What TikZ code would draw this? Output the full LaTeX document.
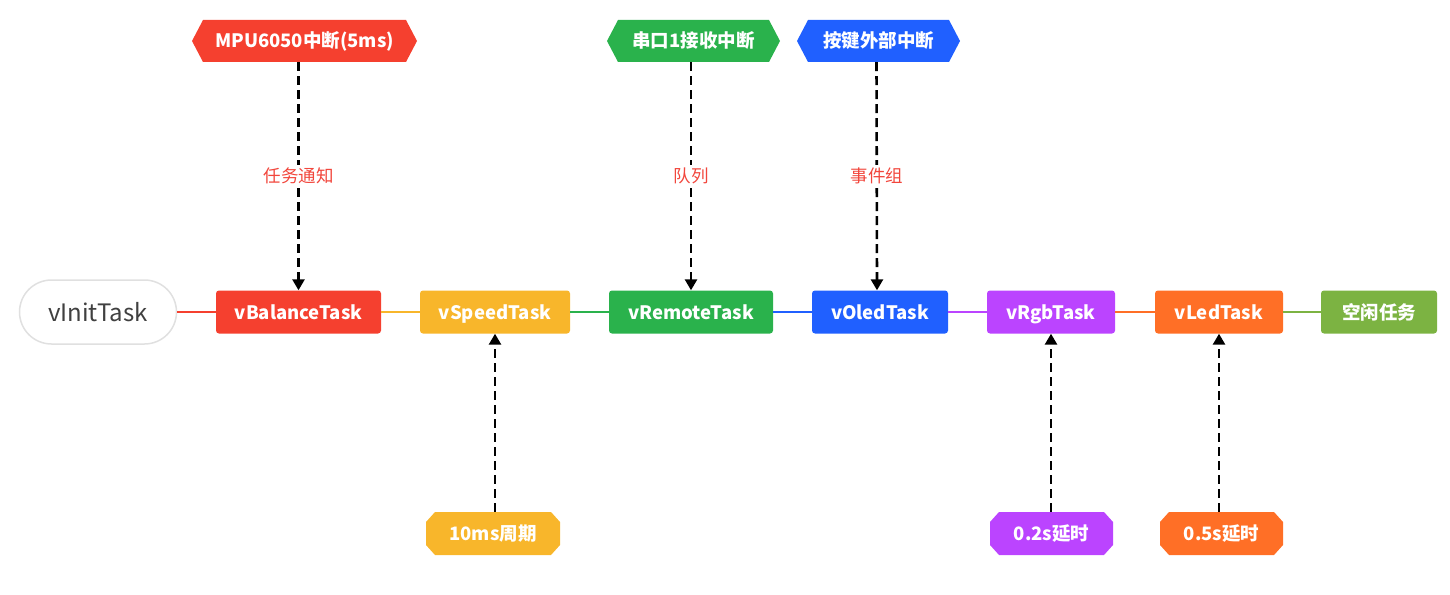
\documentclass[tikz,border=0pt]{standalone}
\usepackage{fontspec}
\setmainfont{Noto Sans CJK SC}
\usetikzlibrary{arrows.meta}
\definecolor{cRed}{HTML}{F5402F}
\definecolor{cYel}{HTML}{F8B62B}
\definecolor{cGrn}{HTML}{2AB24C}
\definecolor{cBlu}{HTML}{2060FF}
\definecolor{cPur}{HTML}{BB44FF}
\definecolor{cOra}{HTML}{FF6F26}
\definecolor{cLgr}{HTML}{7CB342}
\definecolor{cLbl}{HTML}{F2463C}
\definecolor{cTxt}{HTML}{404040}
\begin{document}
\begin{tikzpicture}[x=1pt,y=-1pt,
  boxtext/.style={text=white, font=\fontsize{18.5}{22}\selectfont\bfseries,
    text height=15.5pt, text depth=1.5pt, inner sep=0pt},
  task/.style={boxtext, fill=#1, rounded corners=3pt, minimum height=43pt},
  link/.style={draw=#1, line width=2.5pt},
  hexbox/.style={boxtext, minimum height=42pt,
    path picture={\fill[#1] (path picture bounding box.west)
      -- ([xshift=11pt]path picture bounding box.north west)
      -- ([xshift=-11pt]path picture bounding box.north east)
      -- (path picture bounding box.east)
      -- ([xshift=-11pt]path picture bounding box.south east)
      -- ([xshift=11pt]path picture bounding box.south west) -- cycle;}},
  octbox/.style={boxtext, minimum height=43pt,
    path picture={\fill[#1]
         ([yshift=-10pt]path picture bounding box.north west)
      -- ([xshift=9pt]path picture bounding box.north west)
      -- ([xshift=-9pt]path picture bounding box.north east)
      -- ([yshift=-10pt]path picture bounding box.north east)
      -- ([yshift=10pt]path picture bounding box.south east)
      -- ([xshift=-9pt]path picture bounding box.south east)
      -- ([xshift=9pt]path picture bounding box.south west)
      -- ([yshift=10pt]path picture bounding box.south west) -- cycle;}},
  dasharrow/.style={draw=black, line width=2.6pt, dash pattern=on 9pt off 5pt,
    -{Triangle[width=12pt,length=11pt]}},
  lbl/.style={fill=white, text=cLbl, inner sep=3pt, font=\fontsize{17.5}{20}\selectfont}
]
\useasboundingbox (0,0) rectangle (1450,594);

% main row
\node[draw=black!12, line width=1.5pt, fill=white, rounded corners=32pt,
  minimum width=157pt, minimum height=64pt, text=cTxt,
  font=\fontsize{24}{26}\selectfont] (init) at (98,312) {vInitTask};
\node[task=cRed, minimum width=165pt] (bal) at (298.5,312) {vBalanceTask};
\node[task=cYel, minimum width=150pt] (spd) at (495,312) {vSpeedTask};
\node[task=cGrn, minimum width=164pt] (rem) at (691,312) {vRemoteTask};
\node[task=cBlu, minimum width=136pt] (old) at (880,312) {vOledTask};
\node[task=cPur, minimum width=128pt] (rgb) at (1051,312) {vRgbTask};
\node[task=cOra, minimum width=128pt] (led) at (1219,312) {vLedTask};
\node[task=cLgr, minimum width=116pt] (idle) at (1379,312) {空闲任务};

\draw[link=cRed] (init) -- (bal);
\draw[link=cYel] (bal) -- (spd);
\draw[link=cGrn] (spd) -- (rem);
\draw[link=cBlu] (rem) -- (old);
\draw[link=cPur] (old) -- (rgb);
\draw[link=cOra] (rgb) -- (led);
\draw[link=cLgr] (led) -- (idle);

% interrupt sources
\node[hexbox=cRed, minimum width=225pt] (mpu) at (304.5,41) {MPU6050中断(5ms)};
\node[hexbox=cGrn, minimum width=173pt] (uart) at (693.5,41) {串口1接收中断};
\node[hexbox=cBlu, minimum width=163pt] (key) at (878.5,41) {按键外部中断};

\draw[dasharrow] (mpu.south -| bal.north) -- node[lbl]{任务通知} (bal.north);
\draw[dasharrow] (uart.south -| rem.north) -- node[lbl]{队列} (rem.north);
\draw[dasharrow] ([xshift=-2pt]key.south) -- node[lbl]{事件组} ([xshift=-3pt]old.north);

% periodic sources
\node[octbox=cYel, minimum width=134pt] (t10) at (493,533.5) {10ms周期};
\node[octbox=cPur, minimum width=123pt] (t02) at (1051.5,533.5) {0.2s延时};
\node[octbox=cOra, minimum width=123pt] (t05) at (1221.5,533.5) {0.5s延时};

\draw[dasharrow] (t10.north -| spd.south) -- (spd.south);
\draw[dasharrow] (t02.north -| rgb.south) -- (rgb.south);
\draw[dasharrow] (t05.north -| led.south) -- (led.south);
\end{tikzpicture}
\end{document}
